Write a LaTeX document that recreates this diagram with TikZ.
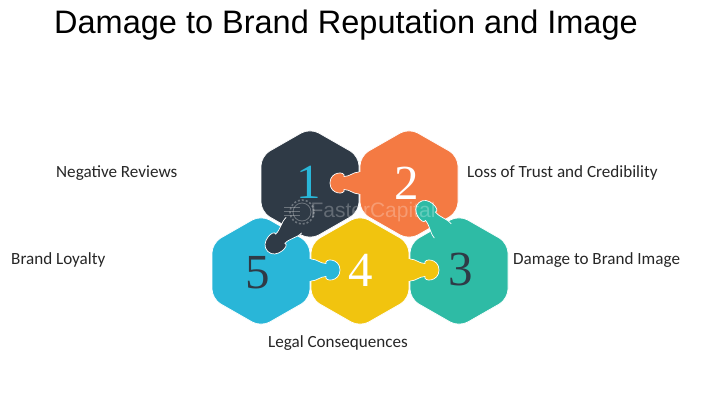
\documentclass[tikz,border=0pt]{standalone}
\usepackage{fontspec}
\setmainfont{Liberation Sans}
\newfontfamily\labelfont{Carlito}
\newfontfamily\digitfont{Liberation Serif}
\usepackage{xcolor}
\definecolor{darkslate}{HTML}{2F3A46}
\definecolor{coral}{HTML}{F47A43}
\definecolor{skyblue}{HTML}{29B6D8}
\definecolor{amber}{HTML}{F1C40F}
\definecolor{seagreen}{HTML}{2EBBA5}
\tikzset{
  hexpiece/.style={draw=white, line width=0.7pt, rounded corners=10pt, fill=#1},
  knobpiece/.style={draw=white, line width=0.7pt, fill=#1},
  caption/.style={font=\labelfont\fontsize{17.1}{20}\selectfont, text=black!85, anchor=west, inner sep=0pt},
  digit/.style={font=\digitfont\fontsize{49}{51}\selectfont, inner sep=0pt},
  pics/knob/.style={code={
    \fill[#1] (-3,-11) rectangle (2,11);
    \path[knobpiece=#1] (-1,-11) .. controls (5,-11) and (8,-6.5) .. (14,-6.5)
      .. controls (12,-12) and (28,-12) .. (28,0)
      .. controls (28,12) and (12,12) .. (14,6.5)
      .. controls (8,6.5) and (5,11) .. (-1,11);
  }}
}
\newcommand{\hexagon}[3]{%
  \path[hexpiece=#3] (#1,#2-56) -- (#1+49,#2-28) -- (#1+49,#2+28) -- (#1,#2+56)
    -- (#1-49,#2+28) -- (#1-49,#2-28) -- cycle;}
\begin{document}
\begin{tikzpicture}[x=1pt, y=-1pt]
\useasboundingbox (0,0) rectangle (720,405);
% pieces
\hexagon{310}{184}{darkslate}
\hexagon{409}{184}{coral}
\hexagon{261}{271}{skyblue}
\hexagon{360}{271}{amber}
\hexagon{459}{271}{seagreen}
% tabs between the pieces
\pic at (358,183) [rotate=180] {knob=coral};
\pic at (293,226) [rotate=225, xscale=1.28] {knob=darkslate};
\pic at (312,270) {knob=skyblue};
\pic at (411,270) {knob=amber};
\pic at (442,230) [rotate=130, xscale=1.28] {knob=seagreen};
% numbers
\node (one) [digit, text=skyblue] at (308.5,182) {1};
\node (two) [digit, text=white] at (407,183) {2};
\node (three) [digit, text=darkslate] at (461,270) {3};
\node (four) [digit, text=white] at (361,270) {4};
\node (five) [digit, text=darkslate] at (258,273) {5};
% watermark
\node (mark) [font=\fontsize{21}{23}\selectfont, text=white, text opacity=0.25, inner sep=0pt] at (373,212) {FasterCapital};
\draw[white, opacity=0.3, line width=0.8pt] (302,212) circle (9);
\draw[white, opacity=0.3, line width=1.6pt, dash pattern=on 2pt off 2pt] (302,212) circle (12);
\foreach \y in {207,211,215} \draw[white, opacity=0.3] (284,\y) -- (300,\y);
% texts
\node (title) [font=\fontsize{32.5}{36}\selectfont, anchor=west, inner sep=0pt] at (54,25) {Damage to Brand Reputation and Image};
\node (reviews) [caption] at (56,173) {Negative Reviews};
\node (trust) [caption] at (467,173) {Loss of Trust and Credibility};
\node (loyalty) [caption] at (11,260) {Brand Loyalty};
\node (image) [caption] at (513,260) {Damage to Brand Image};
\node (legal) [caption] at (268,343) {Legal Consequences};
\end{tikzpicture}
\end{document}
